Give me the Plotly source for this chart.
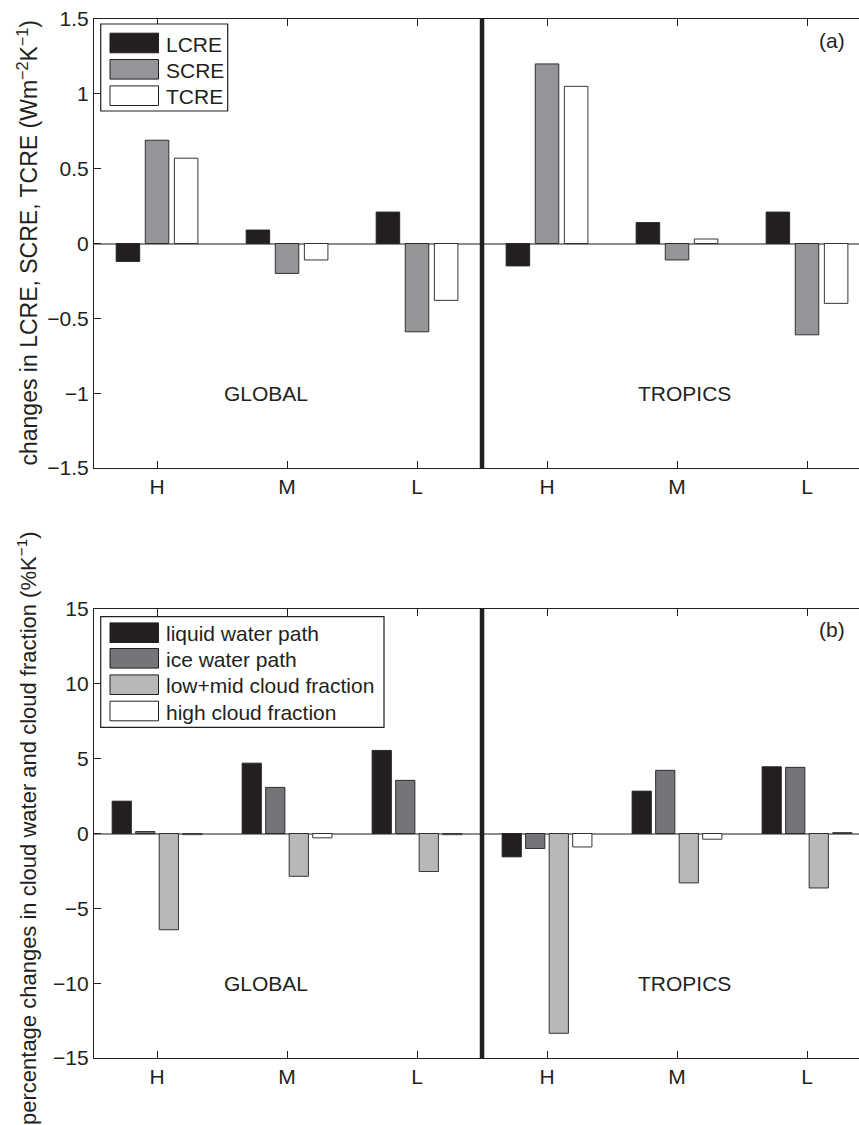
import plotly.graph_objects as go

# ---------------- data ----------------
positions = [1, 2, 3, 4, 5, 6]
tick_labels = ["H", "M", "L", "H", "M", "L"]

lcre = [-0.12, 0.09, 0.21, -0.15, 0.14, 0.21]
scre = [0.69, -0.20, -0.59, 1.20, -0.11, -0.61]
tcre = [0.57, -0.11, -0.38, 1.05, 0.03, -0.40]

lwp = [2.16, 4.70, 5.55, -1.56, 2.83, 4.46]
iwp = [0.13, 3.08, 3.55, -1.00, 4.22, 4.42]
lowmid_cf = [-6.43, -2.86, -2.54, -13.35, -3.30, -3.64]
high_cf = [-0.08, -0.29, -0.08, -0.90, -0.38, 0.06]

top_names = ["LCRE", "SCRE", "TCRE"]
bot_names = ["liquid water path", "ice water path", "low+mid cloud fraction", "high cloud fraction"]
region_labels = ["GLOBAL", "TROPICS"]

# ---------------- style ----------------
INK = "#231f20"
top_colors = [INK, "#939598", "#ffffff"]
bot_colors = [INK, "#747579", "#b7b8ba", "#ffffff"]
FONT = "Liberation Sans, Arial, sans-serif"
FS = 21

W, H = 859, 1125
ML, MR, MT, MB = 94, 0, 19, 67
PW = W - ML - MR
PH = H - MT - MB
top_px = (19, 468)
bot_px = (609, 1058)


def py2paper(py):
    return (H - MB - py) / PH


def px2paper(px):
    return (px - ML) / PW


fig = go.Figure()

# top panel bars
slot_t, width_t = 0.224, 0.181
for k, (name, vals, col) in enumerate(zip(top_names, [lcre, scre, tcre], top_colors)):
    center = (k - 1) * slot_t
    fig.add_trace(go.Bar(
        x=positions, y=vals, name=name, width=width_t, offset=center - width_t / 2,
        marker=dict(color=col, line=dict(color=INK, width=0.9)),
        xaxis="x", yaxis="y", showlegend=False,
    ))

# bottom panel bars
slot_b, width_b = 0.181, 0.148
for k, (name, vals, col) in enumerate(zip(bot_names, [lwp, iwp, lowmid_cf, high_cf], bot_colors)):
    center = (k - 1.5) * slot_b
    fig.add_trace(go.Bar(
        x=positions, y=vals, name=name, width=width_b, offset=center - width_b / 2,
        marker=dict(color=col, line=dict(color=INK, width=0.9)),
        xaxis="x2", yaxis="y2", showlegend=False,
    ))

xrange_ = [0.515, 6.4]
axis_common = dict(
    showline=True, linecolor=INK, linewidth=1.2, ticks="inside", ticklen=7,
    tickcolor=INK, tickwidth=1, showgrid=False,
    tickfont=dict(family=FONT, size=FS, color=INK),
)

fig.update_layout(
    width=W, height=H,
    margin=dict(l=ML, r=MR, t=MT, b=MB),
    paper_bgcolor="white", plot_bgcolor="white",
    barmode="overlay",
    font=dict(family=FONT, size=FS, color=INK),
    xaxis=dict(domain=[0, 1], anchor="y", range=xrange_, tickvals=positions,
               ticktext=tick_labels, mirror="ticks", zeroline=False, **axis_common),
    yaxis=dict(domain=[py2paper(top_px[1]), py2paper(top_px[0])], anchor="x",
               range=[-1.5, 1.5], tickvals=[-1.5, -1, -0.5, 0, 0.5, 1, 1.5],
               ticktext=["\u22121.5", "\u22121", "\u22120.5", "0", "0.5", "1", "1.5"],
               zeroline=True, zerolinecolor="#8c8c8c", zerolinewidth=1.5,
               mirror=False, **axis_common),
    xaxis2=dict(domain=[0, 1], anchor="y2", range=xrange_, tickvals=positions,
                ticktext=tick_labels, mirror="ticks", zeroline=False, **axis_common),
    yaxis2=dict(domain=[py2paper(bot_px[1]), py2paper(bot_px[0])], anchor="x2",
                range=[-15, 15], tickvals=[-15, -10, -5, 0, 5, 10, 15],
                ticktext=["\u221215", "\u221210", "\u22125", "0", "5", "10", "15"],
                zeroline=True, zerolinecolor="#8c8c8c", zerolinewidth=1.5,
                mirror=False, **axis_common),
)

# vertical dividers between GLOBAL and TROPICS
for xr, yr in [("x", "y domain"), ("x2", "y2 domain")]:
    fig.add_shape(type="line", xref=xr, yref=yr, x0=3.5, x1=3.5, y0=0, y1=1,
                  line=dict(color=INK, width=4.5), layer="above")

# region labels
for xr, yr, yv in [("x", "y", -1.0), ("x2", "y2", -10.0)]:
    for xv, lab in zip([1.84, 5.06], region_labels):
        fig.add_annotation(x=xv, y=yv, xref=xr, yref=yr, text=lab, showarrow=False,
                           font=dict(family=FONT, size=FS, color=INK),
                           xanchor="center", yanchor="middle")

# panel labels
for lab, pyc in [("(a)", 40), ("(b)", 629)]:
    fig.add_annotation(x=px2paper(832), y=py2paper(pyc), xref="paper", yref="paper",
                       text=lab, showarrow=False, xanchor="center", yanchor="middle",
                       font=dict(family=FONT, size=FS, color=INK))

# y-axis titles
fig.add_annotation(x=px2paper(27), y=py2paper(sum(top_px) / 2), xref="paper", yref="paper",
                   text="changes in LCRE, SCRE, TCRE (Wm<sup>\u22122</sup>K<sup>\u22121</sup>)",
                   textangle=-90, showarrow=False, xanchor="center", yanchor="middle",
                   font=dict(family=FONT, size=23, color=INK))
fig.add_annotation(x=px2paper(27), y=py2paper(828), xref="paper", yref="paper",
                   text="percentage changes in cloud water and cloud fraction (%K<sup>\u22121</sup>)",
                   textangle=-90, showarrow=False, xanchor="center", yanchor="middle",
                   font=dict(family=FONT, size=22, color=INK))


# custom legends (large swatches as in the original)
def draw_legend(box, rows, names, colors):
    bx0, by0, bx1, by1 = box
    fig.add_shape(type="rect", xref="paper", yref="paper",
                  x0=px2paper(bx0), x1=px2paper(bx1), y0=py2paper(by1), y1=py2paper(by0),
                  line=dict(color=INK, width=1.2), fillcolor="white", layer="above")
    for yc, name, col in zip(rows, names, colors):
        fig.add_shape(type="rect", xref="paper", yref="paper",
                      x0=px2paper(110), x1=px2paper(158.5),
                      y0=py2paper(yc + 9.8), y1=py2paper(yc - 9.8),
                      line=dict(color=INK, width=1), fillcolor=col, layer="above")
        fig.add_annotation(x=px2paper(163.5), y=py2paper(yc + 1), xref="paper", yref="paper",
                           text=name, showarrow=False, xanchor="left", yanchor="middle",
                           font=dict(family=FONT, size=FS, color=INK))


draw_legend((100.7, 24, 227.7, 111), [43, 69.3, 95.7], top_names, top_colors)
draw_legend((100.7, 616.7, 384, 727.3), [632.7, 658.3, 684.7, 711], bot_names, bot_colors)

fig.write_html("out.html")
